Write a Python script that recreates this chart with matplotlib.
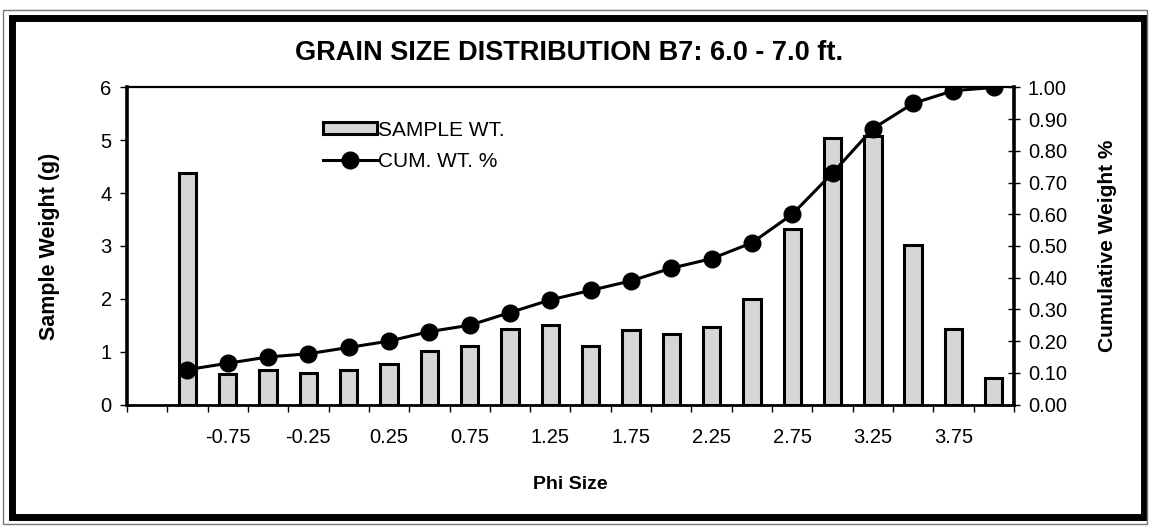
import numpy as np
import matplotlib
matplotlib.use('Agg')
import matplotlib.pyplot as plt
from matplotlib.patches import Rectangle

plt.rcParams['font.family'] = ['Liberation Sans', 'DejaVu Sans']

# Datos
phi_sizes = [-1.00, -0.75, -0.50, -0.25, 0.00, 0.25, 0.50, 0.75, 1.00, 1.25, 1.50,
             1.75, 2.00, 2.25, 2.50, 2.75, 3.00, 3.25, 3.50, 3.75, 4.00]
sample_wt = [4.38, 0.57, 0.65, 0.59, 0.66, 0.77, 1.01, 1.10, 1.43, 1.51, 1.11,
             1.41, 1.34, 1.46, 2.00, 3.33, 5.05, 5.08, 3.02, 1.43, 0.50]
cum_wt = [0.11, 0.13, 0.15, 0.16, 0.18, 0.20, 0.23, 0.25, 0.29, 0.33, 0.36,
          0.39, 0.43, 0.46, 0.51, 0.60, 0.73, 0.87, 0.95, 0.99, 1.00]

fig = plt.figure(figsize=(11.5, 5.28), dpi=100)
ax = fig.add_axes([0.1104, 0.2339, 0.7713, 0.6004])

# Posiciones de categoria (la primera casilla queda vacia)
x = np.arange(len(phi_sizes)) + 1.5

bars = ax.bar(x, sample_wt, width=0.43, color='#d6d6d6', edgecolor='black',
              linewidth=2.2, label='SAMPLE WT.', zorder=2)

ax.set_xlim(0, len(phi_sizes) + 1)
ax.set_ylim(0, 6)
ax.set_yticks(range(0, 7))
ax.set_xticks(x[1::2])
ax.set_xticklabels(['%.2f' % p for p in phi_sizes[1::2]])
ax.set_xticks(np.arange(0, len(phi_sizes) + 2), minor=True)
ax.tick_params(axis='x', which='major', length=0, pad=17, labelsize=14.5)
ax.tick_params(axis='x', which='minor', length=5, width=1, direction='out')
ax.tick_params(axis='y', length=5, width=1, direction='out', labelsize=14.5, pad=6)

for s in ['left', 'right']:
    ax.spines[s].set_linewidth(2.6)
ax.spines['top'].set_linewidth(1.6)
ax.spines['bottom'].set_linewidth(2.0)

ax.set_xlabel('Phi Size', fontsize=14, fontweight='bold', labelpad=21)
ax.set_ylabel('Sample Weight (g)', fontsize=15.5, fontweight='bold', labelpad=29)

# Eje secundario: peso acumulado
ax2 = ax.twinx()
line, = ax2.plot(x, cum_wt, color='black', linewidth=2.2, marker='o',
                 markersize=12, label='CUM. WT. %', zorder=3)
ax2.set_ylim(0, 1)
ax2.set_yticks(np.arange(0, 11) / 10)
ax2.set_yticklabels(['%.2f' % v for v in np.arange(0, 11) / 10])
ax2.tick_params(axis='y', length=8, width=1, direction='inout', labelsize=14.5, pad=6)
for s in ax2.spines.values():
    s.set_visible(False)
ax2.set_ylabel('Cumulative Weight %', fontsize=15, fontweight='bold', labelpad=22)

ax.legend([bars, line], ['SAMPLE WT.', 'CUM. WT. %'], loc='upper left',
          bbox_to_anchor=(0.2, 0.955), frameon=False, fontsize=15,
          handlelength=2.6, handleheight=0.5, handletextpad=0.05, labelspacing=0.6)

fig.text(0.495, 0.90, 'GRAIN SIZE DISTRIBUTION B7: 6.0 - 7.0 ft.', ha='center',
         va='center', fontsize=19.5, fontweight='bold')

# Marco exterior grueso
fig.patches.append(Rectangle((12 / 1150, 1 - 517 / 528), 1132 / 1150, 499 / 528,
                             transform=fig.transFigure, fill=False,
                             edgecolor='black', linewidth=5))
fig.patches.append(Rectangle((3 / 1150, 1 - 524 / 528), 1144 / 1150, 514 / 528,
                             transform=fig.transFigure, fill=False,
                             edgecolor='#777777', linewidth=1))

fig.savefig('out.png', dpi=100)
